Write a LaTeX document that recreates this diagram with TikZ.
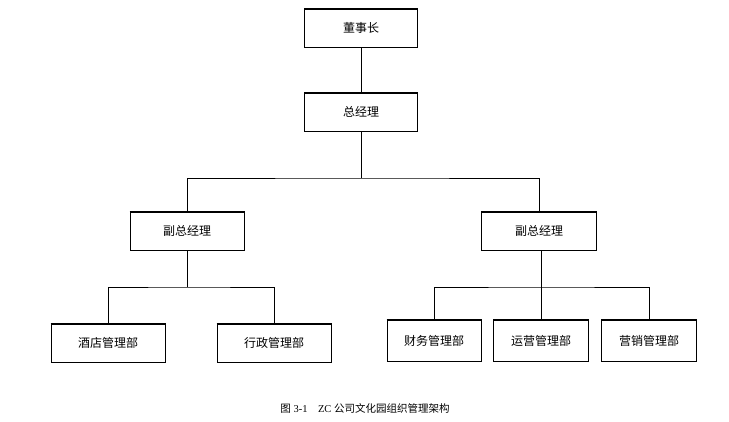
\documentclass[tikz,border=0pt]{standalone}
\usepackage{fontspec}
\setmainfont{Liberation Serif}
\newfontfamily\cjk{Noto Sans CJK SC}
\begin{document}
\begin{tikzpicture}[x=1pt,y=-1pt,
  box/.style={draw,line width=1pt,minimum height=38pt,inner sep=0pt,font=\cjk\fontsize{12}{14}\selectfont},
  conn/.style={line width=0.9pt}]
\useasboundingbox (0,0) rectangle (729,421);
\node[box,minimum width=113pt] (a) at (361,28) {董事长};
\node[box,minimum width=113pt] (b) at (361,112) {总经理};
\node[box,minimum width=114pt] (c) at (187,231) {副总经理};
\node[box,minimum width=115pt] (d) at (539,231) {副总经理};
\node[box,minimum width=114pt] (e) at (108,343) {酒店管理部};
\node[box,minimum width=114pt] (f) at (274,343) {行政管理部};
\node[box,minimum width=94pt,minimum height=41pt] (g) at (434,341) {财务管理部};
\node[box,minimum width=95pt,minimum height=41pt] (h) at (541,341) {运营管理部};
\node[box,minimum width=95pt,minimum height=41pt] (i) at (649,341) {营销管理部};
\foreach \n in {a,b,c,d,e,f,g,h,i}{\draw[line width=2pt] (\n.north west)--(\n.north east);}
\draw[conn] (a)--(b);
\draw[conn] (b.south) -- (361,178) coordinate (j1);
\draw[conn] (c.north) |- (j1) -| (d.north);
\draw[conn] (c.south) -- (187,287) coordinate (j2);
\draw[conn] (e.north) |- (j2) -| (f.north);
\draw[conn] (h.north) |- (d.south);
\coordinate (j3) at (541,287);
\draw[conn] (g.north) |- (j3) -| (i.north);
\node[font=\fontsize{10.5}{12}\selectfont] (cap) at (365,408) {{\cjk 图} 3-1\quad ZC {\cjk 公司文化园组织管理架构}};
\end{tikzpicture}
\end{document}
